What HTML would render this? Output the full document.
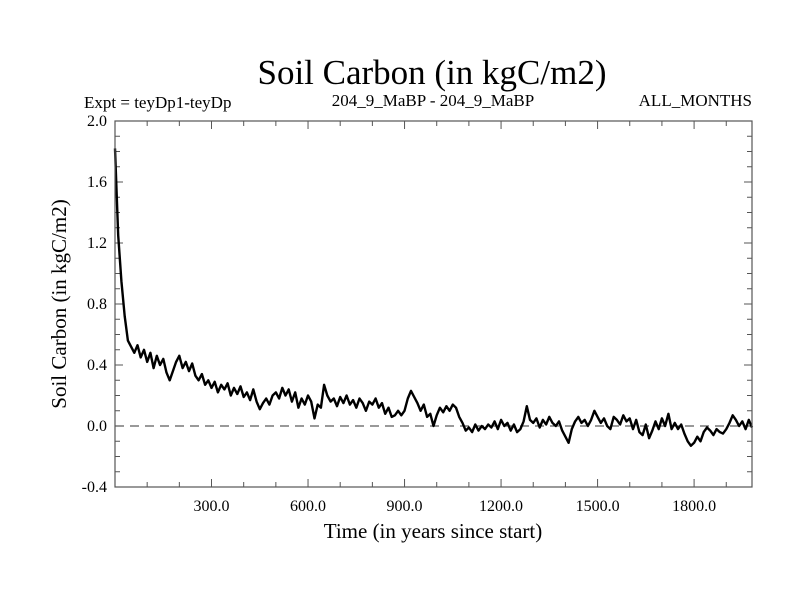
<!DOCTYPE html>
<html><head><meta charset="utf-8"><style>
body{margin:0;background:#fff}
svg{display:block;font-family:"Liberation Serif",serif}
</style></head><body>
<svg id="chart" width="800" height="600" viewBox="0 0 800 600">
<rect width="800" height="600" fill="#fff"/>
<text x="432" y="84" font-size="35" text-anchor="middle">Soil Carbon (in kgC/m2)</text>
<text x="84" y="108" font-size="17">Expt = teyDp1-teyDp</text>
<text x="433" y="106" font-size="17" text-anchor="middle">204_9_MaBP - 204_9_MaBP</text>
<text x="752" y="106" font-size="17" text-anchor="end">ALL_MONTHS</text>
<g id="axes"></g>
<line id="zero" stroke="#333" stroke-width="1" stroke-dasharray="9,6"/>
<path id="series" fill="none" stroke="#000" stroke-width="2.4" stroke-linejoin="round"/>
<rect x="115" y="121" width="637" height="366" fill="none" stroke="#555" stroke-width="1.2"/>
<text x="433" y="538" font-size="21" text-anchor="middle">Time (in years since start)</text>
<text transform="translate(66,304) rotate(-90)" font-size="21" text-anchor="middle">Soil Carbon (in kgC/m2)</text>
</svg>
<script>
const yearStep = 10;
const values = [1.82,1.25,0.95,0.72,0.56,0.52,0.48,0.53,0.45,0.50,
0.42,0.48,0.38,0.46,0.40,0.44,0.35,0.30,0.36,0.42,
0.46,0.38,0.42,0.36,0.41,0.33,0.30,0.34,0.27,0.30,
0.25,0.29,0.22,0.27,0.24,0.28,0.20,0.25,0.21,0.26,
0.19,0.22,0.17,0.24,0.16,0.11,0.15,0.18,0.14,0.20,
0.22,0.18,0.25,0.20,0.24,0.16,0.22,0.12,0.18,0.14,
0.20,0.16,0.05,0.14,0.12,0.27,0.20,0.16,0.18,0.13,
0.19,0.15,0.20,0.14,0.17,0.12,0.18,0.15,0.10,0.16,
0.14,0.18,0.12,0.15,0.08,0.12,0.06,0.07,0.10,0.07,
0.10,0.18,0.23,0.19,0.15,0.10,0.14,0.06,0.08,0.00,
0.07,0.12,0.09,0.13,0.10,0.14,0.12,0.06,0.02,-0.03,
-0.01,-0.04,0.01,-0.03,0.00,-0.02,0.01,-0.01,0.03,-0.02,
0.04,0.00,0.02,-0.03,0.01,-0.04,-0.02,0.03,0.13,0.04,
0.02,0.05,-0.01,0.04,0.01,0.06,0.02,0.00,0.03,-0.03,
-0.07,-0.11,-0.02,0.03,0.06,0.02,0.04,0.00,0.04,0.10,
0.06,0.02,0.05,0.00,-0.02,0.06,0.04,0.01,0.07,0.03,
0.05,-0.02,0.04,-0.04,-0.06,0.01,-0.08,-0.03,0.03,-0.02,
0.05,0.00,0.08,-0.02,0.02,-0.02,0.01,-0.05,-0.10,-0.13,
-0.11,-0.07,-0.10,-0.04,-0.01,-0.03,-0.06,-0.02,-0.04,-0.05,
-0.02,0.02,0.07,0.04,0.00,0.03,-0.02,0.04,-0.01];
const xTickLabels = ["300.0","600.0","900.0","1200.0","1500.0","1800.0"];
const xTickValues = [300,600,900,1200,1500,1800];
const yTickLabels = ["2.0","1.6","1.2","0.8","0.4","0.0","-0.4"];
const yTickValues = [2.0,1.6,1.2,0.8,0.4,0.0,-0.4];

const X0=115,X1=752,Y0=121,Y1=487,XMIN=0,XMAX=1980,YMIN=-0.4,YMAX=2.0;
const sx=v=>X0+(v-XMIN)/(XMAX-XMIN)*(X1-X0);
const sy=v=>Y1-(v-YMIN)/(YMAX-YMIN)*(Y1-Y0);
const NS="http://www.w3.org/2000/svg";
const axes=document.getElementById('axes');
function mk(tag,attrs){const e=document.createElementNS(NS,tag);for(const k in attrs)e.setAttribute(k,attrs[k]);axes.appendChild(e);return e;}
for(let t=100;t<XMAX;t+=100){
  const major=t%300===0, L=major?8:5;
  const a=mk('line',{x1:sx(t),x2:sx(t),y1:Y1,y2:Y1-L,stroke:'#555'});
  
  
  const b=mk('line',{x1:sx(t),x2:sx(t),y1:Y0,y2:Y0+L,stroke:'#555'});
  
  
}
for(let i=-4;i<=20;i++){
  const v=i/10, major=i%4===0, L=major?8:5;
  const a=mk('line',{x1:X0,x2:X0+L,y1:sy(v),y2:sy(v),stroke:'#555'});
  
  
  const b=mk('line',{x1:X1,x2:X1-L,y1:sy(v),y2:sy(v),stroke:'#555'});
  
  
}
xTickLabels.forEach((l,i)=>{
  const t=mk('text',{x:sx(xTickValues[i]),y:Y1+24,'font-size':16,'text-anchor':'middle'});
  t.textContent=l;
  
  
});
yTickLabels.forEach((l,i)=>{
  const t=mk('text',{x:X0-8,y:sy(yTickValues[i])+5,'font-size':16,'text-anchor':'end'});
  t.textContent=l;
  
  
});
const z=document.getElementById('zero');
z.setAttribute('x1',X0);z.setAttribute('x2',X1);z.setAttribute('y1',sy(0));z.setAttribute('y2',sy(0));
document.getElementById('series').setAttribute('d',values.map((v,i)=>(i?'L':'M')+sx(i*yearStep).toFixed(1)+' '+sy(v).toFixed(1)).join(''));
</script>
</body></html>
